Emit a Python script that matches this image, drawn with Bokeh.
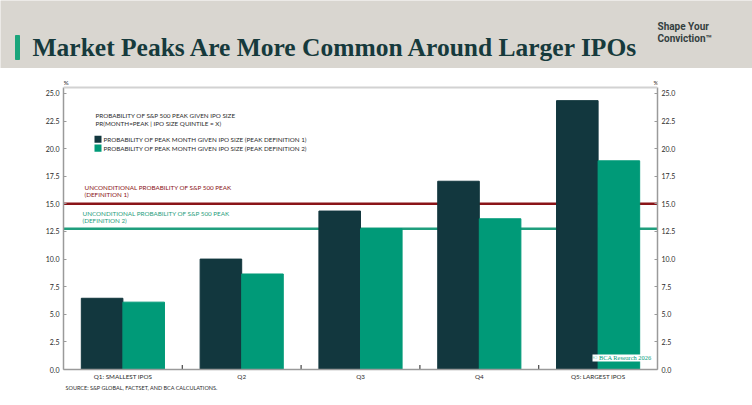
from bokeh.plotting import figure
from bokeh.models import (FactorRange, Range1d, LinearAxis, FixedTicker, Span, Label, Title,
                          BoxAnnotation, ColumnDataSource, NumeralTickFormatter)
from bokeh.transform import dodge
from bokeh.core.properties import value
from bokeh.embed import file_html
from bokeh.resources import INLINE
import math

# --- data -------------------------------------------------------------------
categories = ["Q1: SMALLEST IPOS", "Q2", "Q3", "Q4", "Q5: LARGEST IPOS"]
peak_def1 = [6.45, 10.0, 14.35, 17.05, 24.35]   # % , peak definition 1
peak_def2 = [6.1, 8.65, 12.75, 13.65, 18.9]     # % , peak definition 2
uncond_def1 = 15.0
uncond_def2 = 12.75
y_ticks = [0.0, 2.5, 5.0, 7.5, 10.0, 12.5, 15.0, 17.5, 20.0, 22.5, 25.0]

title_text = "Market Peaks Are More Common Around Larger IPOs"
legend_title = ["PROBABILITY OF S&P 500 PEAK GIVEN IPO SIZE",
                "PR(MONTH=PEAK | IPO SIZE QUINTILE = X)"]
series_names = ["PROBABILITY OF PEAK MONTH GIVEN IPO SIZE (PEAK DEFINITION 1)",
                "PROBABILITY OF PEAK MONTH GIVEN IPO SIZE (PEAK DEFINITION 2)"]
source_note = "SOURCE: S&P GLOBAL, FACTSET, AND BCA CALCULATIONS."

# --- styling ----------------------------------------------------------------
DARK = "#12373e"
GREEN = "#009a78"
RED = "#8a1418"
LINE_GREEN = "#1f9e7d"
HEADER_BG = "#d9d6d0"
TITLE_COL = "#163a3c"
AXIS_COL = "#9a9a9a"
TEXT_COL = "#2c2c2c"
SANS = "Lato"
SMALL = "6.3px"

W = 752
HEADER_H = 68
MAIN_H = 405 - HEADER_H
Y_TOP = 25.54          # top edge of the chart box
Y_VIEW = 27.26         # visible range, leaves room for the "%" unit marks

# --- header band (pixel coordinates) -----------------------------------------
header = figure(width=W, height=HEADER_H, x_range=Range1d(0, W), y_range=Range1d(HEADER_H, 0),
                x_axis_type=None, y_axis_type=None,
                output_backend="svg", toolbar_location=None, min_border=0)
header.grid.visible = False
header.outline_line_color = None
header.background_fill_color = HEADER_BG
header.border_fill_color = HEADER_BG
header.quad(left=[15], right=[19], top=[35], bottom=[59], color="#1aa57b")
header.text(x=[32], y=[46.5], text=[title_text], text_font=value("Liberation Serif"),
            text_font_style="bold", text_font_size="25.5px", text_color=TITLE_COL,
            text_baseline="middle")
header.text(x=[657, 657], y=[26, 38], text=["Shape Your", "Conviction\u2122"],
            text_font=value("Roboto"), text_font_style="bold", text_font_size="10px",
            text_color="#34403f", text_baseline="middle")

# --- main chart -------------------------------------------------------------
src = ColumnDataSource(dict(cat=categories, d1=peak_def1, d2=peak_def2))

p = figure(width=W, height=MAIN_H, x_range=FactorRange(*categories, range_padding=0),
           y_range=Range1d(0, Y_VIEW), output_backend="svg", toolbar_location=None,
           min_border_left=63, min_border_right=W - 657, min_border_top=0,
           min_border_bottom=36)
p.xgrid.visible = False
p.ygrid.visible = False
p.outline_line_color = None
p.background_fill_color = "white"
p.border_fill_color = "white"

# top edge of the chart box
p.add_layout(Span(location=Y_TOP, dimension="width", line_color="#d2d2d2", line_width=2))

for ref, col in [(uncond_def1, RED), (uncond_def2, LINE_GREEN)]:
    p.add_layout(Span(location=ref, dimension="width", line_color=col, line_width=2.5,
                      level="underlay"))

p.vbar(x=dodge("cat", -0.175, range=p.x_range), top="d1", width=0.35, source=src,
       fill_color=DARK, line_color=DARK)
p.vbar(x=dodge("cat", 0.175, range=p.x_range), top="d2", width=0.35, source=src,
       fill_color=GREEN, line_color=GREEN)

# small tick marks on the boundaries between quintiles
p.scatter(x=dodge("cat", 0.5, range=p.x_range), y=0,
          source=ColumnDataSource(dict(cat=categories[:-1])),
          marker="dash", angle=math.pi / 2, size=9, line_color="#444444", line_width=1.2)

# axes
def style_y(ax):
    ax.ticker = FixedTicker(ticks=y_ticks)
    ax.formatter = NumeralTickFormatter(format="0.0")
    ax.bounds = (0, Y_TOP)
    ax.axis_line_color = AXIS_COL
    ax.axis_line_width = 1.5
    ax.major_tick_in = 3
    ax.major_tick_out = 0
    ax.major_tick_line_color = AXIS_COL
    ax.minor_tick_line_color = None
    ax.major_label_text_font = SANS
    ax.major_label_text_font_size = "7px"
    ax.major_label_text_color = TEXT_COL
    ax.major_label_standoff = 4

style_y(p.yaxis[0])
right_axis = LinearAxis()
style_y(right_axis)
p.add_layout(right_axis, "right")

xa = p.xaxis[0]
xa.axis_line_color = AXIS_COL
xa.axis_line_width = 1.5
xa.major_tick_line_color = None
xa.major_tick_in = 0
xa.major_tick_out = 0
xa.minor_tick_line_color = None
xa.major_label_text_font = SANS
xa.major_label_text_font_size = SMALL
xa.major_label_text_color = TEXT_COL
xa.major_label_standoff = 3

# source note under the axis
p.add_layout(Title(text=source_note, align="left", offset=2, standoff=0,
                   text_font=SANS, text_font_size="5.5px", text_font_style="normal",
                   text_color=TEXT_COL), "below")

# annotations (x in pixels from the left edge of the chart box)
for x in (0, 590):
    p.add_layout(Label(x=x, y=26.0, x_units="screen", text="%", text_font=SANS,
                       text_font_size="6.5px", text_color=TEXT_COL, text_baseline="middle"))

for i, line in enumerate(legend_title):
    p.add_layout(Label(x=32, y=23.0 - 0.7 * i, x_units="screen", text=line, text_font=SANS,
                       text_font_size=SMALL, text_color=TEXT_COL, text_baseline="middle"))

for i, (name, col) in enumerate(zip(series_names, [DARK, GREEN])):
    yc = 20.85 - 0.8 * i
    p.add_layout(BoxAnnotation(left=31, right=38, left_units="screen", right_units="screen",
                               top=yc + 0.32, bottom=yc - 0.32, fill_color=col, fill_alpha=1,
                               line_color=None))
    p.add_layout(Label(x=40, y=yc, x_units="screen", text=name, text_font=SANS,
                       text_font_size=SMALL, text_color=TEXT_COL, text_baseline="middle"))

for idx, (col, x, ytop) in enumerate([(RED, 21, 16.5), (LINE_GREEN, 19, 14.13)], start=1):
    p.add_layout(Label(x=x, y=ytop, x_units="screen", text="UNCONDITIONAL PROBABILITY OF S&P 500 PEAK",
                       text_font=SANS, text_font_size=SMALL, text_color=col, text_baseline="middle"))
    p.add_layout(Label(x=x, y=ytop - 0.65, x_units="screen", text=f"(DEFINITION {idx})",
                       text_font=SANS, text_font_size=SMALL, text_color=col, text_baseline="middle"))

p.add_layout(Label(x=529, y=1.05, x_units="screen", text="\u00a9 BCA Research 2026",
                   text_font="Liberation Serif", text_font_size="6.4px", text_color=GREEN,
                   text_baseline="middle", background_fill_color="white",
                   background_fill_alpha=1))

# header and chart are separate roots so each keeps its own frame geometry
open("out.html", "w").write(file_html([header, p], INLINE))
